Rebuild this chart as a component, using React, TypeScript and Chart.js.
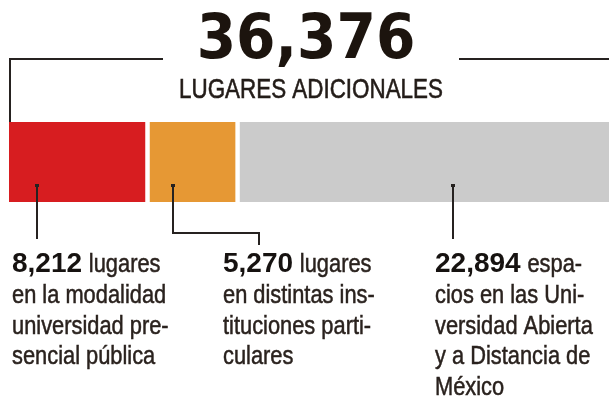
import React, { useEffect, useRef } from 'react';
import { Chart, registerables } from 'chart.js';

Chart.register(...registerables);

const categories = ['Lugares adicionales'];
const seriesLabels = [
  'Universidad presencial pública',
  'Instituciones particulares',
  'Universidad Abierta y a Distancia de México',
];
const seriesValues = [8212, 5270, 22894];
const seriesColors = ['#d71d20', '#e69834', '#cbcbcb'];
const totalCaption = 'LUGARES ADICIONALES';
const boldLabels = ['8,212', '5,270', '22,894'];
const descLines = [
  ['lugares', 'en la modalidad', 'universidad pre-', 'sencial pública'],
  ['lugares', 'en distintas ins-', 'tituciones parti-', 'culares'],
  ['espa-', 'cios en las Uni-', 'versidad Abierta', 'y a Distancia de', 'México'],
];

const total = seriesValues.reduce((a, b) => a + b, 0);
const totalLabel = total.toLocaleString('en-US');

const SANS = '"Liberation Sans", Arial, sans-serif';
const BIG = '"DejaVu Sans Condensed", "DejaVu Sans", sans-serif';

function narrowText(ctx: CanvasRenderingContext2D, text: string, x: number, y: number, sx: number, align: 'left' | 'center', stroke = 0) {
  const w = ctx.measureText(text).width * sx;
  const left = align === 'center' ? x - w / 2 : x;
  ctx.save();
  ctx.textAlign = 'left';
  ctx.translate(left, y);
  ctx.scale(sx, 1);
  ctx.fillText(text, 0, 0);
  if (stroke > 0) {
    ctx.strokeStyle = ctx.fillStyle as string;
    ctx.lineWidth = stroke;
    ctx.strokeText(text, 0, 0);
  }
  ctx.restore();
  return w;
}

const annotations = {
  id: 'annotations',
  afterDraw(chart: any) {
    const ctx = chart.ctx as CanvasRenderingContext2D;
    const xs = chart.scales.x;
    const area = chart.chartArea;
    const bar = chart.getDatasetMeta(0).data[0] as any;
    const barTop = bar.y - bar.height / 2;
    const barBottom = bar.y + bar.height / 2;
    const lineColor = '#262220';

    ctx.save();
    ctx.textBaseline = 'alphabetic';
    // Title
    ctx.fillStyle = '#1c140e';
    ctx.textAlign = 'center';
    ctx.font = `bold 63px ${BIG}`;
    ctx.fillText(totalLabel, 306, 58);
    ctx.font = `28px ${SANS}`;
    ctx.fillStyle = '#231c18';
    narrowText(ctx, totalCaption, 311, 98, 0.8, 'center', 0.6);

    // Bracket
    ctx.strokeStyle = lineColor;
    ctx.lineWidth = 2;
    const bracketY = 59;
    ctx.beginPath();
    ctx.moveTo(area.left + 1, barTop);
    ctx.lineTo(area.left + 1, bracketY);
    ctx.lineTo(163, bracketY);
    ctx.moveTo(459, bracketY);
    ctx.lineTo(area.right - 1, bracketY);
    ctx.lineTo(area.right - 1, barTop);
    ctx.stroke();

    // Markers
    const fracs = [0.2, 0.26, 0.545];
    let cum = 0;
    const mTop = bar.y + 23;
    const mBottom = barBottom + 37;
    seriesValues.forEach((v, i) => {
      const x = Math.round(xs.getPixelForValue(cum + v * fracs[i]));
      cum += v;
      ctx.strokeStyle = lineColor;
      ctx.lineWidth = 2;
      ctx.beginPath();
      if (i === 1) {
        ctx.moveTo(x, mTop);
        ctx.lineTo(x, mBottom - 6);
        ctx.lineTo(259, mBottom - 6);
        ctx.lineTo(259, mBottom + 6);
      } else {
        ctx.moveTo(x, mTop);
        ctx.lineTo(x, mBottom);
      }
      ctx.stroke();
      ctx.fillStyle = lineColor;
      ctx.fillRect(x - 2, mTop - 1, 4, 3);
    });

    // Labels
    const textX = [12, 223, 435];
    const base0 = 272;
    const pitch = 30.75;
    ctx.textAlign = 'left';
    descLines.forEach((lines, i) => {
      lines.forEach((line, j) => {
        const y = base0 + j * pitch;
        let x = textX[i];
        if (j === 0) {
          ctx.font = `bold 28px ${SANS}`;
          ctx.fillStyle = '#161210';
          ctx.fillText(boldLabels[i], x, y);
          x += ctx.measureText(boldLabels[i] + ' ').width - 1;
        }
        ctx.font = `26px ${SANS}`;
        ctx.fillStyle = '#2a221e';
        narrowText(ctx, line, x, y, 0.84, 'left', 0.5);
      });
    });
    ctx.restore();
  },
};

export default function App() {
  const ref = useRef<HTMLCanvasElement>(null);
  useEffect(() => {
    if (!ref.current) return;
    const chart = new Chart(ref.current, {
      type: 'bar',
      data: {
        labels: categories,
        datasets: seriesValues.map((v, i) => ({
          label: seriesLabels[i],
          data: [v],
          backgroundColor: seriesColors[i],
          borderColor: '#ffffff',
          borderWidth: { top: 0, bottom: 0, left: 0, right: i < seriesValues.length - 1 ? 4.5 : 0 },
          borderSkipped: false,
          barPercentage: 1,
          categoryPercentage: 1,
        })),
      },
      options: {
        indexAxis: 'y',
        animation: false,
        responsive: false,
        devicePixelRatio: 1,
        layout: { padding: { left: 9, right: 9, top: 122, bottom: 200 } },
        scales: {
          x: { stacked: true, display: false, min: 0, max: total },
          y: { stacked: true, display: false },
        },
        plugins: {
          legend: { display: false },
          tooltip: { enabled: false },
          title: { display: false },
        },
      },
      plugins: [annotations],
    });
    return () => chart.destroy();
  }, []);
  return (
    <div style={{ position: 'fixed', left: 0, top: 0, width: 609, height: 402, overflow: 'hidden', background: '#fff' }}>
      <canvas ref={ref} width={640} height={402} style={{ display: 'block' }} />
    </div>
  );
}
